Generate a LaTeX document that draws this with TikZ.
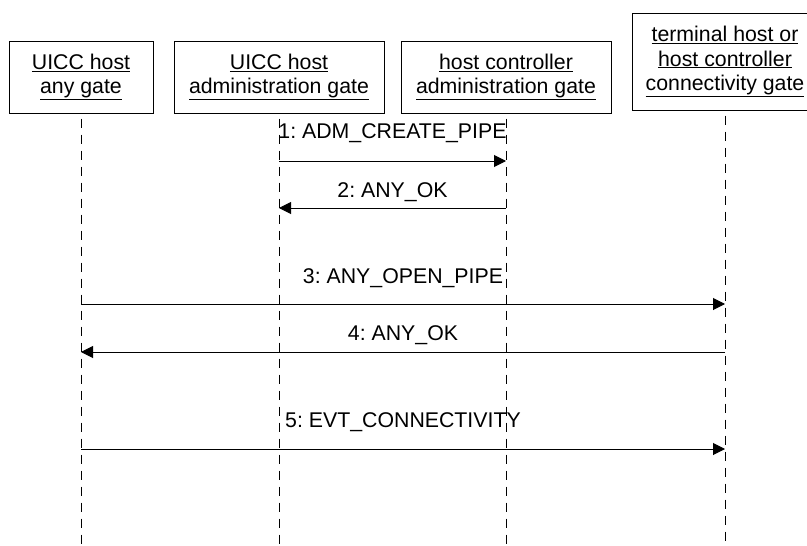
\documentclass[tikz,border=0pt]{standalone}
\usepackage{fontspec}
\setmainfont{Liberation Sans}
\usetikzlibrary{positioning,arrows.meta}
\frenchspacing

\begin{document}
\begin{tikzpicture}[
    x=1pt, y=-1pt,
    line width=1pt,
    font=\fontsize{21.3}{24.5}\selectfont,
    gate/.style={
        rectangle,
        draw=black,
        fill=white,
        minimum height=72pt,
        align=center,
        inner sep=0pt
    },
    lifeline/.style={
        draw=black,
        dash pattern=on 9pt off 7pt,
        dash phase=11pt
    },
    msg/.style={-{Triangle[length=12pt,width=12pt]}},
    lbl/.style={midway, anchor=base, inner sep=0pt}
]
    \useasboundingbox (0,0) rectangle (807,546);

    % Gates
    \node[gate, minimum width=144pt] (uiccany) at (81,77) {\underline{UICC host}\\\underline{any gate}};
    \node[gate, minimum width=210pt] (uiccadm) [right=20pt of uiccany] {\underline{UICC host}\\\underline{administration gate}};
    \node[gate, minimum width=210pt] (hcadm) [right=16pt of uiccadm] {\underline{host controller}\\\underline{administration gate}};
    \node[gate, minimum width=186pt, minimum height=97pt] (conn) [right=20pt of hcadm.south east, anchor=south west, yshift=3pt] {\underline{terminal host or}\\\underline{host controller}\\\underline{connectivity gate}};

    % Lifelines
    \coordinate (bottom) at (0,546);
    \foreach \g in {uiccany,uiccadm,hcadm,conn}
        \draw[lifeline] (\g.south) -- (\g.south |- bottom);

    % Messages
    \coordinate (m1) at (0,161);
    \coordinate (m2) at (0,208);
    \coordinate (m3) at (0,304);
    \coordinate (m4) at (0,352);
    \coordinate (m5) at (0,449);
    \draw[msg] (uiccadm |- m1) -- node[lbl, yshift=23pt] {1: ADM\_CREATE\_PIPE} (hcadm |- m1);
    \draw[msg] (hcadm |- m2) -- node[lbl, yshift=11pt] {2: ANY\_OK} (uiccadm |- m2);
    \draw[msg] (uiccany |- m3) -- node[lbl, yshift=21pt] {3: ANY\_OPEN\_PIPE} (conn |- m3);
    \draw[msg] (conn |- m4) -- node[lbl, yshift=12pt] {4: ANY\_OK} (uiccany |- m4);
    \draw[msg] (uiccany |- m5) -- node[lbl, yshift=22pt] {5: EVT\_CONNECTIVITY} (conn |- m5);
\end{tikzpicture}
\end{document}
